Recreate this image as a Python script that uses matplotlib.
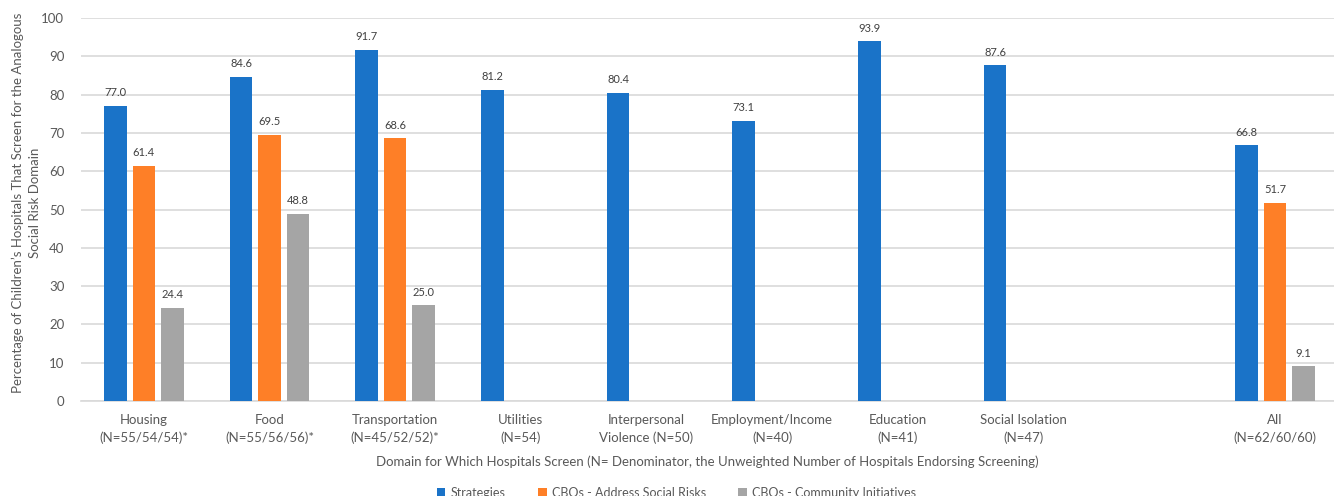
import numpy as np
import matplotlib
matplotlib.use("Agg")
import matplotlib.pyplot as plt
from matplotlib.patches import Patch

plt.rcParams['font.family'] = ['Lato', 'DejaVu Sans']

categories = ["Housing\n(N=55/54/54)*", "Food\n(N=55/56/56)*", "Transportation\n(N=45/52/52)*",
              "Utilities\n(N=54)", "Interpersonal\nViolence (N=50)", "Employment/Income\n(N=40)",
              "Education\n(N=41)", "Social Isolation\n(N=47)", "", "All\n(N=62/60/60)"]
series_names = ["Strategies", "CBOs - Address Social Risks", "CBOs - Community Initiatives"]
strategies = [77.0, 84.6, 91.7, 81.2, 80.4, 73.1, 93.9, 87.6, np.nan, 66.8]
cbos_address = [61.4, 69.5, 68.6, np.nan, np.nan, np.nan, np.nan, np.nan, np.nan, 51.7]
cbos_community = [24.4, 48.8, 25.0, np.nan, np.nan, np.nan, np.nan, np.nan, np.nan, 9.1]
colors = ["#1a73c8", "#fe7f27", "#a5a5a5"]

fig = plt.figure(figsize=(13.34, 4.96), dpi=100)
ax = fig.add_axes([0.0607, 0.1915, 0.9393, 0.7722])

x = np.arange(len(categories))
w = 0.18
offs = [-0.226, 0.0, 0.226]
for vals, off, c in zip([strategies, cbos_address, cbos_community], offs, colors):
    v = np.array(vals, dtype=float)
    ax.bar(x + off, np.nan_to_num(v), width=w, color=c, zorder=3)
    for xi, vi in zip(x, v):
        if not np.isnan(vi):
            ax.text(xi + off, vi + 2.0, f"{vi:.1f}", ha='center', va='bottom',
                    fontsize=8, color='#404040', zorder=4)

ax.set_xlim(-0.5, 9.47)
ax.set_ylim(0, 100)
ax.set_yticks(np.arange(0, 101, 10))
ax.yaxis.grid(True, color='#d9d9d9', linewidth=1.2, zorder=0)
ax.set_axisbelow(True)
for s in ['top', 'right', 'left']:
    ax.spines[s].set_visible(False)
ax.spines['bottom'].set_color('#d9d9d9')
ax.spines['bottom'].set_linewidth(1.2)
ax.tick_params(axis='both', length=0, colors='#595959', labelsize=9.5)
ax.tick_params(axis='y', pad=12)
ax.tick_params(axis='x', pad=9)
ax.set_xticks(x)
ax.set_xticklabels(categories, linespacing=1.6)
for t in ax.get_xticklabels():
    t.set_color('#595959')

fig.text(0.020, 0.5915, "Percentage of Children\u2019s Hospitals That Screen for the Analogous\nSocial Risk Domain",
         rotation=90, ha='center', va='center', fontsize=9.5, color='#595959', linespacing=1.5,
         transform=fig.transFigure)
ax.set_xlabel("Domain for Which Hospitals Screen (N= Denominator, the Unweighted Number of Hospitals Endorsing Screening)",
              fontsize=9.5, color='#595959', labelpad=8)

handles = [Patch(facecolor=c, edgecolor='none') for c in colors]
fig.legend(handles, series_names, loc='lower center', bbox_to_anchor=(0.507, -0.028), ncol=3,
           frameon=False, fontsize=9, handlelength=0.7, handleheight=0.7, columnspacing=2.6,
           handletextpad=0.4, labelcolor='#595959')

fig.savefig("out.png", dpi=100)
